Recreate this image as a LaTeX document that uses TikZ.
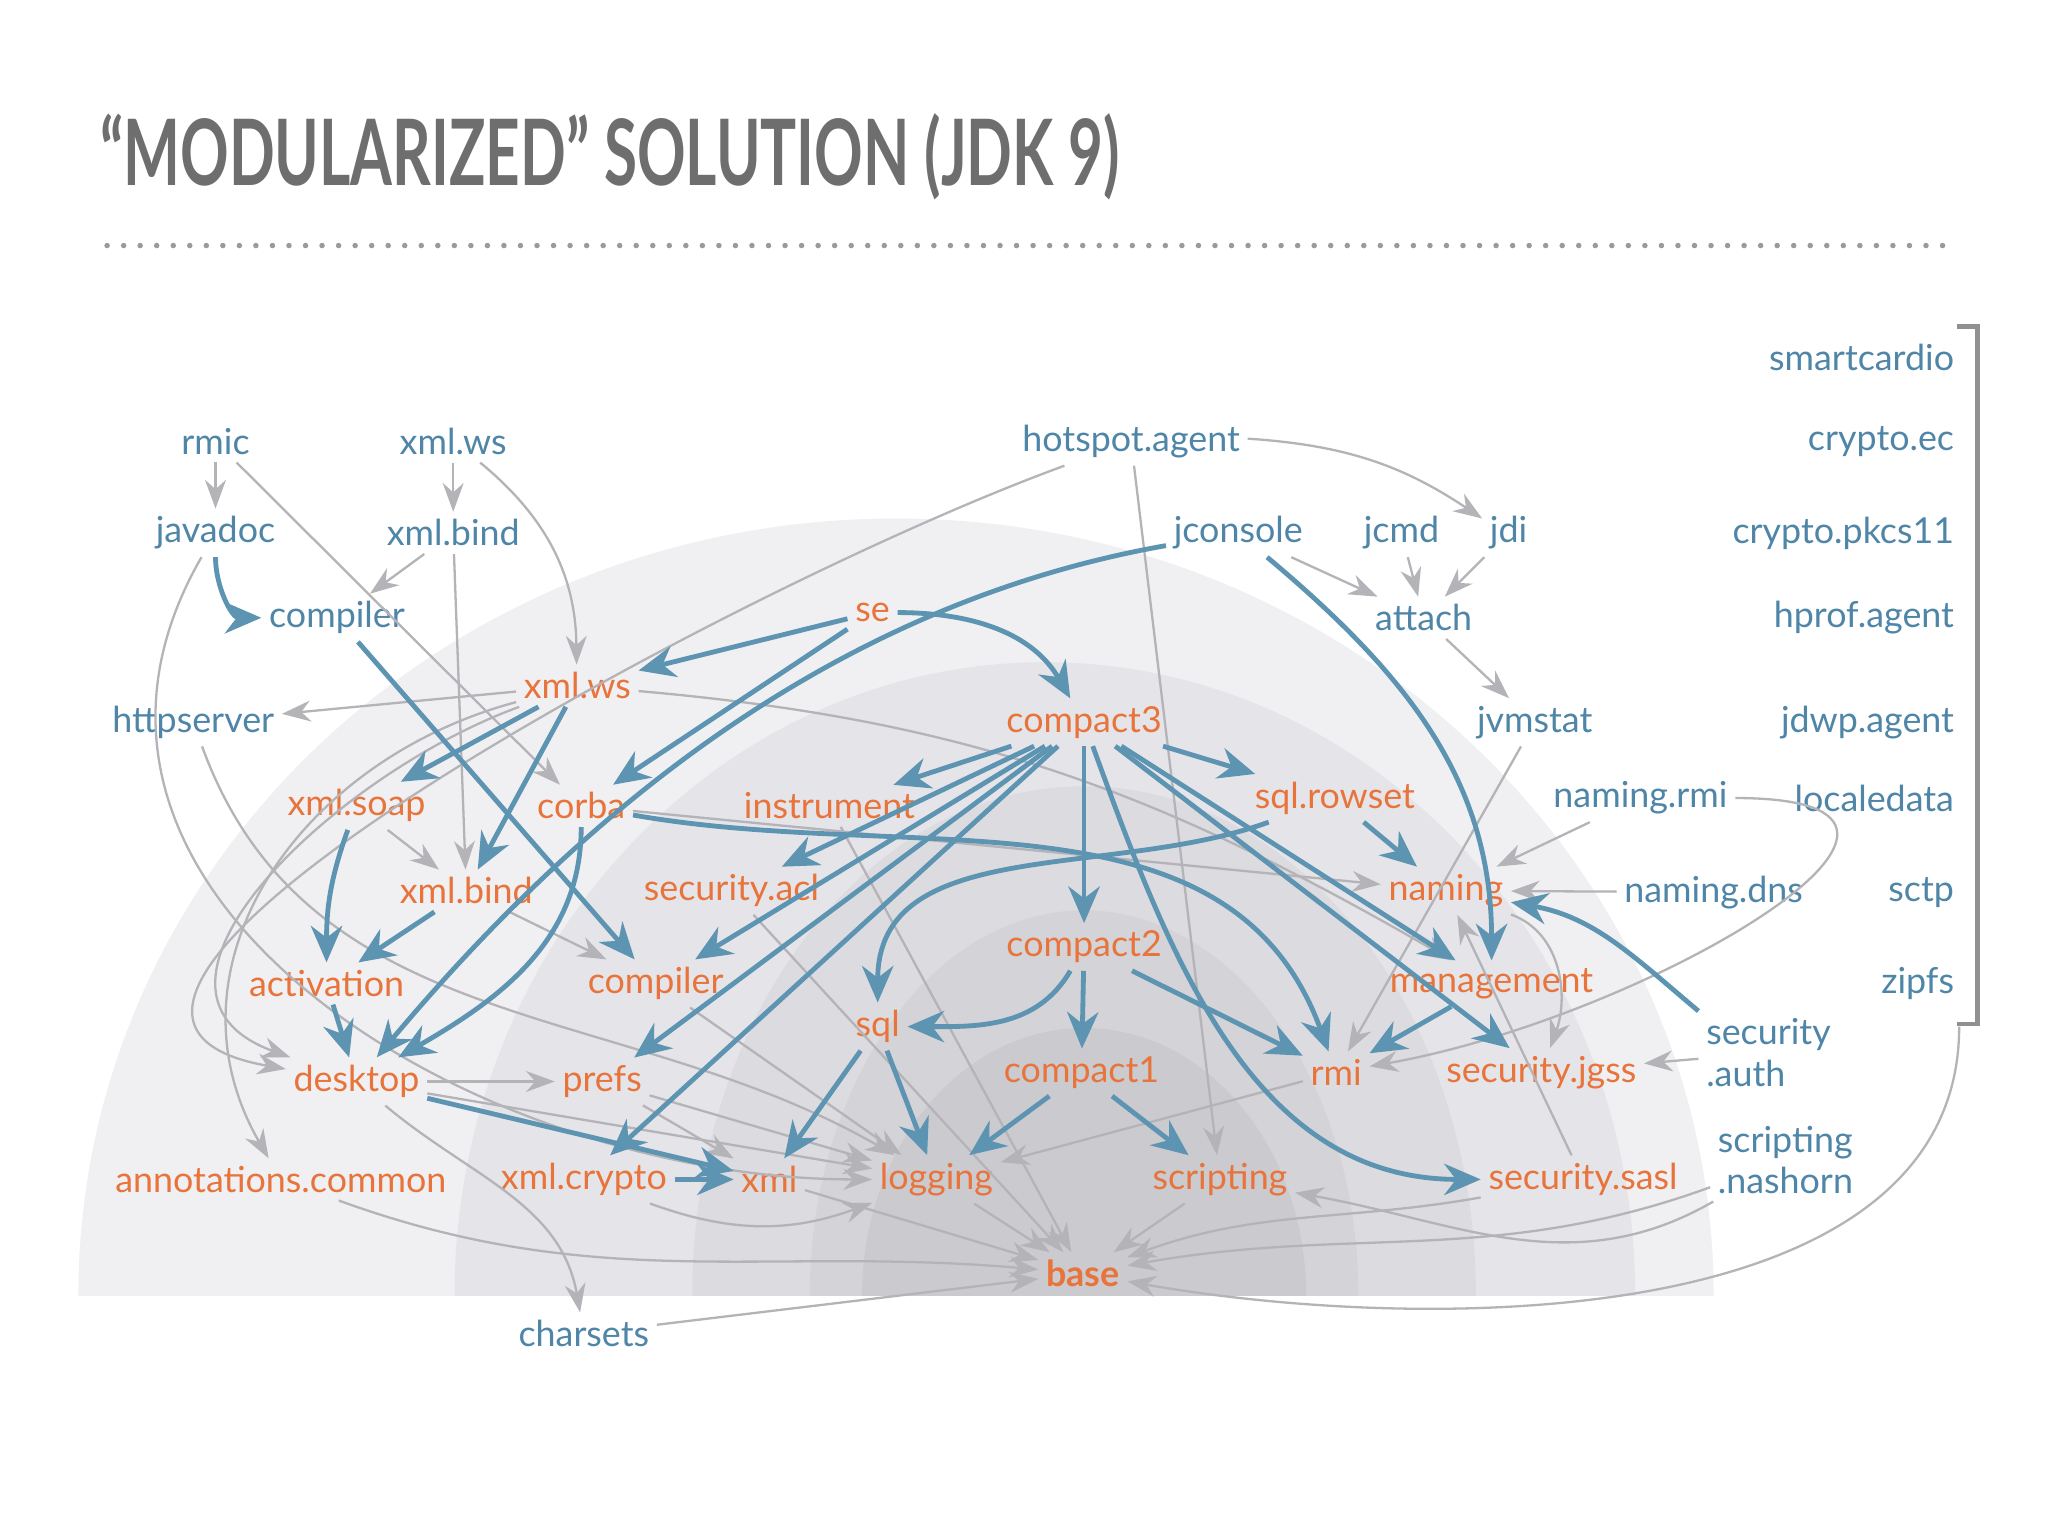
\documentclass[tikz,border=0pt]{standalone}
\usepackage{fontspec}
\setmainfont{Lato}
\usetikzlibrary{arrows.meta}
\definecolor{tblue}{HTML}{4F86A8}
\definecolor{torange}{HTML}{E8743B}
\definecolor{garr}{HTML}{B4B4B8}
\definecolor{barr}{HTML}{5C94B2}
\definecolor{ttl}{HTML}{6E6E6E}
\tikzset{
 bn/.style={text=tblue,font=\fontsize{7.8}{9}\selectfont,inner sep=1.5pt},
 on/.style={text=torange,font=\fontsize{7.8}{9}\selectfont,inner sep=1.5pt},
 ga/.style={draw=garr,line width=0.5pt,-{Stealth[length=2.2mm,width=1.6mm]}},
 ba/.style={draw=barr,line width=1.05pt,-{Stealth[length=2.8mm,width=2.4mm]}},
}
\begin{document}
\begin{tikzpicture}[x=0.01cm,y=-0.01cm]
\useasboundingbox (0,0) rectangle (1568,1176);
\fill[white] (0,0) rectangle (1568,1176);
% background
\begin{scope}
\clip (0,0) rectangle (1568,992);
\fill[color={rgb,255:red,240;green,240;blue,242}] (686,992) ellipse (626 and 595);
\fill[color={rgb,255:red,229;green,229;blue,233}] (800,992) ellipse (452 and 485);
\fill[color={rgb,255:red,220;green,220;blue,224}] (830,992) ellipse (300 and 390);
\fill[color={rgb,255:red,211;green,211;blue,216}] (830,992) ellipse (210 and 295);
\fill[color={rgb,255:red,202;green,202;blue,207}] (830,992) ellipse (170 and 205);
\end{scope}
% title
\node[anchor=west,text=ttl,inner sep=0] (title) at (76,120) {\scalebox{0.69}[1.05]{\fontsize{19}{20}\selectfont\bfseries “MODULARIZED” SOLUTION (JDK 9)}};
\draw[ttl!70,line width=1.2pt,dash pattern=on 0pt off 3.6pt,line cap=round] (82,188) -- (1492,188);
% bracket
\draw[garr!80!black,line width=0.9pt] (1498,250) -- (1514,250) -- (1514,784) -- (1498,784);
\coordinate (zb) at (1500,786);
% blue nodes
\node[bn] (rmic) at (165,338) {rmic};
\node[bn] (xmlwsb) at (347,338) {xml.ws};
\node[bn] (javadoc) at (165,408) {javadoc};
\node[bn] (xmlbindb) at (347,408) {xml.bind};
\node[bn] (compilerb) at (258,473) {compiler};
\node[bn] (httpserver) at (148,553) {httpserver};
\node[bn] (hotspot) at (866,338) {hotspot.agent};
\node[bn] (jconsole) at (948,408) {jconsole};
\node[bn] (jcmd) at (1073,408) {jcmd};
\node[bn] (jdi) at (1155,408) {jdi};
\node[bn] (attach) at (1090,473) {attach};
\node[bn] (jvmstat) at (1175,553) {jvmstat};
\node[bn] (namingrmi) at (1256,611) {naming.rmi};
\node[bn] (namingdns) at (1312,683) {naming.dns};
\node[bn,align=left] (secauth) at (1354,806) {security\\.auth};
\node[bn,align=left] (nashorn) at (1367,888) {scripting\\.nashorn};
\node[bn] (charsets) at (447,1021) {charsets};
\node[bn,anchor=east] (smartcardio) at (1502,274) {smartcardio};
\node[bn,anchor=east] (cryptoec) at (1502,338) {crypto.ec};
\node[bn,anchor=east] (pkcs) at (1502,408) {crypto.pkcs11};
\node[bn,anchor=east] (hprof) at (1502,473) {hprof.agent};
\node[bn,anchor=east] (jdwp) at (1502,553) {jdwp.agent};
\node[bn,anchor=east] (localedata) at (1502,611) {localedata};
\node[bn,anchor=east] (sctp) at (1502,683) {sctp};
\node[bn,anchor=east] (zipfs) at (1502,753) {zipfs};
% orange nodes
\node[on] (se) at (668,469) {se};
\node[on] (xmlws) at (442,525) {xml.ws};
\node[on] (compact3) at (830,553) {compact3};
\node[on] (xmlsoap) at (273,617) {xml.soap};
\node[on] (corba) at (445,617) {corba};
\node[on] (instrument) at (635,617) {instrument};
\node[on] (sqlrowset) at (1022,611) {sql.rowset};
\node[on] (xmlbind) at (357,682) {xml.bind};
\node[on] (secacl) at (560,682) {security.acl};
\node[on] (naming) at (1107,682) {naming};
\node[on] (activation) at (250,753) {activation};
\node[on] (compiler) at (502,753) {compiler};
\node[on] (compact2) at (830,725) {compact2};
\node[on] (management) at (1142,753) {management};
\node[on] (sql) at (672,786) {sql};
\node[on] (desktop) at (273,828) {desktop};
\node[on] (prefs) at (461,828) {prefs};
\node[on] (compact1) at (828,821) {compact1};
\node[on] (rmi) at (1023,821) {rmi};
\node[on] (secjgss) at (1180,821) {security.jgss};
\node[on] (annot) at (215,903) {annotations.common};
\node[on] (xmlcrypto) at (447,903) {xml.crypto};
\node[on] (xml) at (589,903) {xml};
\node[on] (logging) at (717,903) {logging};
\node[on] (scripting) at (934,903) {scripting};
\node[on] (secsasl) at (1212,903) {security.sasl};
\node[on,font=\fontsize{7.8}{9}\selectfont\bfseries] (base) at (829,975) {base};
% gray edges
\draw[ga] (rmic) -- (javadoc);
\draw[ga] (xmlwsb) -- (xmlbindb);
\draw[ga] (rmic) -- (corba);
\draw[ga] (xmlwsb) to[bend left=25] (xmlws);
\draw[ga] (xmlbindb) -- (compilerb);
\draw[ga] (xmlbindb) -- (xmlbind);
\draw[ga] (xmlws) -- (httpserver);
\draw[ga] (hotspot) to[out=200,in=170,looseness=0.9] (desktop);
\draw[ga] (javadoc) to[out=240,in=180,looseness=1.1] (logging);
\draw[ga] (httpserver) to[out=290,in=150] (logging);
\draw[ga] (xmlws) to[out=200,in=160,looseness=1.2] (desktop);
\draw[ga] (xmlws) to[out=195,in=120,looseness=1.1] (annot);
\draw[ga] (hotspot) to[bend left=15] (jdi);
\draw[ga] (hotspot) -- (scripting);
\draw[ga] (jconsole) -- (attach);
\draw[ga] (jcmd) -- (attach);
\draw[ga] (jdi) -- (attach);
\draw[ga] (attach) -- (jvmstat);
\draw[ga] (jvmstat) -- (rmi);
\draw[ga] (namingrmi) -- (naming);
\draw[ga] (namingdns) -- (naming);
\draw[ga] (namingrmi.east) to[out=0,in=10,looseness=1.6] (rmi);
\draw[ga] (naming) to[out=-20,in=70] (secjgss);
\draw[ga] (secauth) -- (secjgss);
\draw[ga] (secsasl) -- (naming);
\draw[ga] (instrument) -- (base);
\draw[ga] (secacl) -- (base);
\draw[ga] (xmlws) to[out=-5,in=150] (management);
\draw[ga] (corba) -- (naming);
\draw[ga] (xmlbind) -- (compiler);
\draw[ga] (xmlsoap) -- (xmlbind);
\draw[ga] (desktop) -- (prefs);
\draw[ga] (desktop) to[out=-40,in=100] (charsets);
\draw[ga] (desktop) -- (logging);
\draw[ga] (prefs) -- (xml);
\draw[ga] (prefs) -- (logging);
\draw[ga] (compiler) -- (logging);
\draw[ga] (annot) to[out=-20,in=175] (base);
\draw[ga] (xmlcrypto) to[out=-20,in=200] (logging);
\draw[ga] (xml) -- (base);
\draw[ga] (logging) -- (base);
\draw[ga] (scripting) -- (base);
\draw[ga] (secsasl) to[out=190,in=20] (base);
\draw[ga] (rmi) -- (logging);
\draw[ga] (nashorn) to[out=200,in=10] (base);
\draw[ga] (nashorn) to[out=210,in=-10] (scripting);
\draw[ga] (charsets) -- (base);
\draw[ga] (zb) to[out=-90,in=-10,looseness=0.9] (base);
% blue edges
\draw[ba] (javadoc) to[out=-90,in=180] (compilerb);
\draw[ba] (compilerb) -- (compiler);
\draw[ba] (se) -- (xmlws);
\draw[ba] (se) -- (corba);
\draw[ba] (se) to[out=0,in=120] (compact3);
\draw[ba] (jconsole) to[out=190,in=50,looseness=0.9] (desktop);
\draw[ba] (jconsole) to[out=-40,in=90] (management);
\draw[ba] (xmlws) -- (xmlsoap);
\draw[ba] (xmlws) -- (xmlbind);
\draw[ba] (corba) to[out=-90,in=30] (desktop);
\draw[ba] (xmlsoap) to[out=-110,in=90] (activation);
\draw[ba] (xmlbind) -- (activation);
\draw[ba] (activation) -- (desktop);
\draw[ba] (compact3) -- (instrument);
\draw[ba] (compact3) -- (secacl);
\draw[ba] (compact3) -- (compiler);
\draw[ba] (compact3) -- (prefs);
\draw[ba] (compact3) -- (xmlcrypto);
\draw[ba] (compact3) -- (compact2);
\draw[ba] (compact3) -- (sqlrowset);
\draw[ba] (compact3) -- (management);
\draw[ba] (compact3) -- (secjgss);
\draw[ba] (compact3) to[out=-70,in=180] (secsasl);
\draw[ba] (corba) to[out=-10,in=110] (rmi);
\draw[ba] (sqlrowset) -- (naming);
\draw[ba] (sqlrowset) to[out=200,in=90] (sql);
\draw[ba] (compact2) to[out=-120,in=0] (sql);
\draw[ba] (compact2) -- (compact1);
\draw[ba] (compact2) -- (rmi);
\draw[ba] (sql) -- (xml);
\draw[ba] (sql) -- (logging);
\draw[ba] (compact1) -- (logging);
\draw[ba] (compact1) -- (scripting);
\draw[ba] (desktop) -- (xml);
\draw[ba] (xmlcrypto) -- (xml);
\draw[ba] (management) -- (rmi);
\draw[ba] (secauth.north west) to[out=140,in=-10] (naming);
\end{tikzpicture}
\end{document}
